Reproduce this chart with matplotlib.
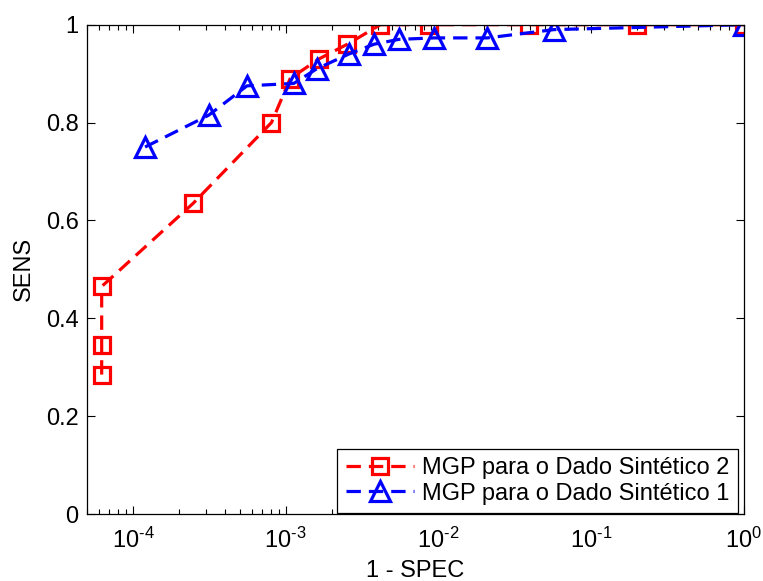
import matplotlib
matplotlib.use("Agg")
import matplotlib.pyplot as plt
from matplotlib.ticker import FixedLocator, FixedFormatter, LogLocator, NullFormatter

plt.rcParams['font.family'] = ['Liberation Sans', 'DejaVu Sans']
plt.rcParams['mathtext.fontset'] = 'custom'
plt.rcParams['mathtext.rm'] = 'Liberation Sans'
plt.rcParams['mathtext.it'] = 'Liberation Sans:italic'
plt.rcParams['mathtext.default'] = 'regular'

# ROC-style points: false positive rate (1 - SPEC) vs sensitivity
fpr_sint2 = [6.24e-5, 6.24e-5, 6.24e-5, 2.48e-4, 8.07e-4, 1.07e-3, 1.65e-3,
             2.53e-3, 4.17e-3, 8.67e-3, 0.0393, 0.201, 1.0]
sens_sint2 = [0.285, 0.345, 0.465, 0.635, 0.80, 0.89, 0.93,
              0.96, 1.0, 1.0, 1.0, 1.0, 1.0]

fpr_sint1 = [1.2e-4, 3.13e-4, 5.58e-4, 1.13e-3, 1.6e-3, 2.59e-3,
             3.78e-3, 5.5e-3, 9.35e-3, 0.0209, 0.0573, 1.0]
sens_sint1 = [0.75, 0.815, 0.875, 0.88, 0.91, 0.94,
              0.96, 0.97, 0.973, 0.973, 0.99, 1.0]

labels = ['MGP para o Dado Sintético 2', 'MGP para o Dado Sintético 1']
x_exponents = [-4, -3, -2, -1, 0]
y_ticks = [0, 0.2, 0.4, 0.6, 0.8, 1]
y_ticklabels = ['0', '0.2', '0.4', '0.6', '0.8', '1']

FS = 17

fig = plt.figure(figsize=(7.63, 5.81), dpi=100)
ax = fig.add_axes([0.114, 0.1153, 0.861, 0.8422])

ax.plot(fpr_sint2, sens_sint2, linestyle='--', color='#FF0000', linewidth=2.3,
        marker='s', markersize=11.5, markerfacecolor='none',
        markeredgewidth=2.3, markeredgecolor='#FF0000', label=labels[0],
        dashes=(4.5, 2.5))
ax.plot(fpr_sint1, sens_sint1, linestyle='--', color='#0000FF', linewidth=2.3,
        marker='^', markersize=14.5, markerfacecolor='none',
        markeredgewidth=2.3, markeredgecolor='#0000FF', label=labels[1],
        dashes=(4.5, 2.5))

ax.set_xscale('log')
ax.set_xlim(5e-5, 1)
ax.set_ylim(0, 1)

ax.xaxis.set_major_locator(FixedLocator([10.0 ** e for e in x_exponents]))
ax.xaxis.set_major_formatter(FixedFormatter(
    [r'$10^{\text{%d}}$' % e for e in x_exponents]))
ax.xaxis.set_minor_locator(LogLocator(base=10, subs=range(2, 10), numticks=20))
ax.xaxis.set_minor_formatter(NullFormatter())

ax.set_yticks(y_ticks)
ax.set_yticklabels(y_ticklabels)

ax.tick_params(which='both', direction='in', top=True, right=True,
               labelsize=FS, width=0.8, color='black')
ax.tick_params(which='major', length=6)
ax.tick_params(axis='y', which='major', pad=6)
ax.tick_params(axis='x', which='major', pad=10)
ax.tick_params(which='minor', length=3.5)
for s in ax.spines.values():
    s.set_linewidth(0.9)

ax.set_xlabel('1 - SPEC', fontsize=FS, labelpad=5)
ax.set_ylabel('SENS', fontsize=FS, labelpad=8)

leg = ax.legend(loc='lower right', bbox_to_anchor=(1 - 6 / 657, 1 / 490),
                fontsize=FS, frameon=True, fancybox=False,
                edgecolor='black', framealpha=1, borderpad=0.35,
                handlelength=2.9, handletextpad=0.35, labelspacing=0.15,
                borderaxespad=0.0)
leg.get_frame().set_linewidth(0.9)

fig.savefig('out.png', dpi=100)
